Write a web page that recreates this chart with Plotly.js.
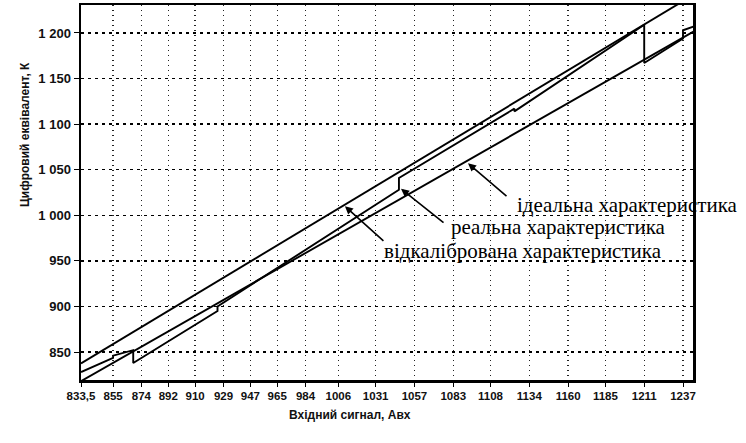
<!DOCTYPE html>
<html><head><meta charset="utf-8">
<script src="https://cdn.plot.ly/plotly-3.0.1.min.js"></script>
<style>html,body{margin:0;padding:0;background:#fff}</style>
</head><body>
<div id="chart" style="width:746px;height:443px"></div>
<script>
// Tick labels
const xTickVals = [833.5, 855, 874, 892, 910, 929, 947, 965, 984, 1006, 1031, 1057, 1083, 1108, 1134, 1160, 1185, 1211, 1237];
const xTickText = ['833,5','855','874','892','910','929','947','965','984','1006','1031','1057','1083','1108','1134','1160','1185','1211','1237'];
const yTickVals = [850, 900, 950, 1000, 1050, 1100, 1150, 1200];
const yTickText = ['850','900','950','1 000','1 050','1 100','1 150','1 200'];

// Series
const idealX = [833.5, 1244];
const idealY = [818, 1201.5];
const calibX = [833.5, 1244];
const calibY = [837.5, 1241.8];
const realX = [833.5, 855, 855, 868.5, 868.5, 925, 925, 1046.6, 1046.6, 1124, 1124, 1211, 1211, 1237, 1237, 1244];
const realY = [828, 843.5, 846, 852, 838, 895, 900, 1028, 1041, 1117, 1114, 1209, 1167, 1194, 1203, 1207];

const labels = ['ідеальна характеристика', 'реальна характеристика', 'відкалібрована характеристика'];

const lineStyle = {color: '#000', width: 1.9};
const traces = [
  {x: idealX, y: idealY, mode: 'lines', line: lineStyle, name: labels[0], hoverinfo: 'skip'},
  {x: realX, y: realY, mode: 'lines', line: lineStyle, name: labels[1], hoverinfo: 'skip'},
  {x: calibX, y: calibY, mode: 'lines', line: lineStyle, name: labels[2], hoverinfo: 'skip'}
];

const L = 81, R = 693, T = 5, B = 380;
const px = v => (v - L) / (R - L);
const py = v => (B - v) / (B - T);
const tickFont = {family: 'Liberation Sans, Arial, sans-serif', size: 11.5, color: '#111', weight: 'bold'};
const serif = {family: 'Liberation Serif, Times New Roman, serif', size: 21, color: '#000'};

const arrow = (x, y, ax, ay) => ({x: x, y: y, xref: 'x', yref: 'y', ax: ax, ay: ay, text: '', showarrow: true,
  arrowhead: 2, arrowsize: 1, arrowwidth: 1.6, arrowcolor: '#000', standoff: 0});

const layout = {
  width: 746, height: 443,
  margin: {l: L, r: 746 - R, t: T, b: 443 - B},
  paper_bgcolor: '#fff', plot_bgcolor: '#fff',
  showlegend: false,
  xaxis: {
    range: [833.5, 1243.7], tickmode: 'array', tickvals: xTickVals, ticktext: xTickText, tickangle: 0,
    showgrid: true, gridcolor: '#222', griddash: '1px,4px', gridwidth: 1.3,
    showline: true, mirror: true, linecolor: '#000', linewidth: 2.5,
    ticks: 'outside', ticklen: 4, tickcolor: '#000', tickfont: tickFont, zeroline: false
  },
  yaxis: {
    range: [819.3, 1230.7], tickmode: 'array', tickvals: yTickVals, ticktext: yTickText,
    showgrid: true, gridcolor: '#000', griddash: '3px,4px', gridwidth: 1.3,
    showline: true, mirror: true, linecolor: '#000', linewidth: 2.5,
    ticks: 'outside', ticklen: 5, tickcolor: '#000',
    tickfont: {family: 'Liberation Sans, Arial, sans-serif', size: 13, color: '#111', weight: 'bold'}, zeroline: false
  },
  annotations: [
    {xref: 'paper', yref: 'paper', x: px(16), y: py(135), text: 'Цифровий еквівалент, К', textangle: -90,
      showarrow: false, font: {family: 'Liberation Sans, Arial, sans-serif', size: 12, color: '#111', weight: 'bold'}},
    {xref: 'paper', yref: 'paper', x: px(350), y: py(424), text: 'Вхідний сигнал, Aвх',
      showarrow: false, font: {family: 'Liberation Sans, Arial, sans-serif', size: 12, color: '#111', weight: 'bold'}},
    {xref: 'paper', yref: 'paper', x: px(515), y: py(205), xanchor: 'left', text: labels[0], showarrow: false, font: serif},
    {xref: 'paper', yref: 'paper', x: px(449), y: py(227), xanchor: 'left', text: labels[1], showarrow: false, font: serif},
    {xref: 'paper', yref: 'paper', x: px(382), y: py(251), xanchor: 'left', text: labels[2], showarrow: false, font: serif},
    arrow(1092.9, 1057, 40, 34),
    arrow(1048, 1029, 44, 35),
    arrow(1010.4, 1010, 40, 36)
  ]
};

Plotly.newPlot('chart', traces, layout, {staticPlot: true, displayModeBar: false});
</script>
</body></html>
